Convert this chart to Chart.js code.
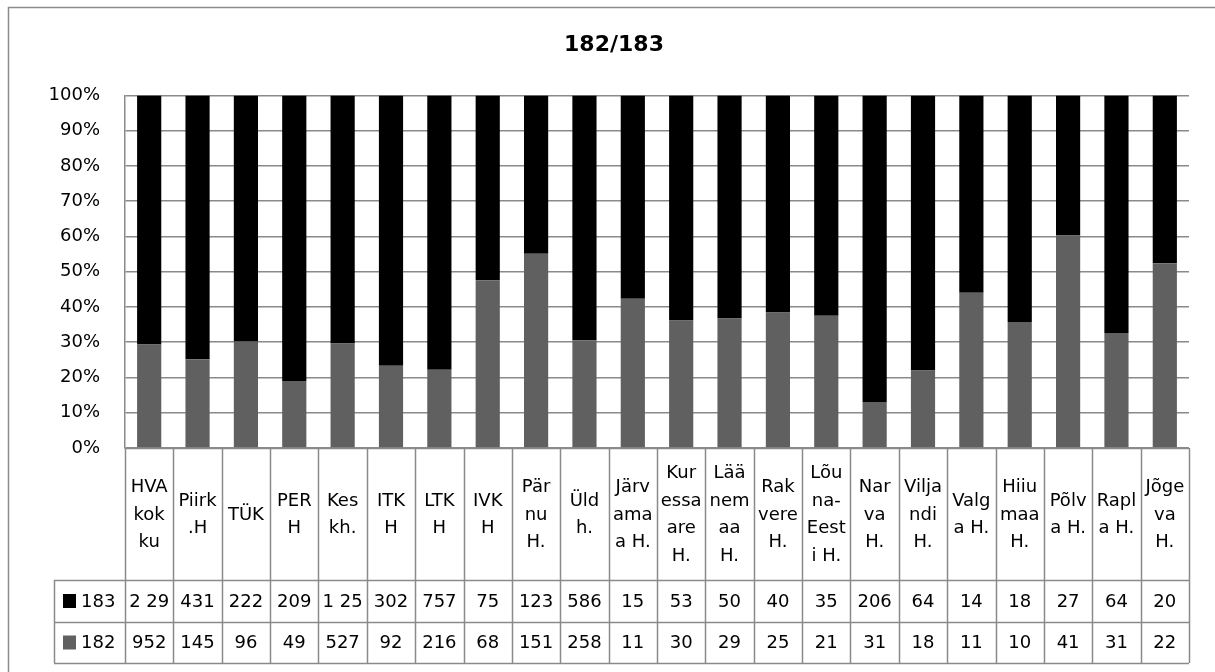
<!DOCTYPE html>
<html><head><meta charset="utf-8">
<script src="https://cdn.jsdelivr.net/npm/chart.js@4.4.0/dist/chart.umd.min.js"></script>
<style>html,body{margin:0;padding:0;background:#fff;overflow:hidden}#wrap{position:relative;width:1215px;height:672px}</style>
</head><body><div id="wrap"><canvas id="c" width="1215" height="672"></canvas></div>
<script>
const categories = [['HVA','kok','ku'],['Piirk','.H'],['TÜK'],['PER','H'],['Kes','kh.'],['ITK','H'],['LTK','H'],['IVK','H'],['Pär','nu','H.'],['Üld','h.'],['Järv','ama','a H.'],['Kur','essa','are','H.'],['Lää','nem','aa','H.'],['Rak','vere','H.'],['Lõu','na-','Eest','i H.'],['Nar','va','H.'],['Vilja','ndi','H.'],['Valg','a H.'],['Hiiu','maa','H.'],['Põlv','a H.'],['Rapl','a H.'],['Jõge','va','H.']];
const series183 = [2290,431,222,209,1250,302,757,75,123,586,15,53,50,40,35,206,64,14,18,27,64,20];
const series182 = [952,145,96,49,527,92,216,68,151,258,11,30,29,25,21,31,18,11,10,41,31,22];
const seriesNames = ['183','182'];
const yTicks = [0,10,20,30,40,50,60,70,80,90,100];
const titleText = '182/183';

const COL183 = '#000000', COL182 = '#606060', LINE = '#8a8a8a';
const FONT = 'DejaVu Sans';

const pct182 = series182.map((v,i)=> v/(v+series183[i])*100);
const pct183 = series183.map((v,i)=> v/(v+series182[i])*100);

function fmt(v){ return String(v).replace(/\B(?=(\d{3})+(?!\d))/g,' '); }

const tablePlugin = {
  id:'tbl',
  afterDraw(chart){
    const {ctx, chartArea:a} = chart;
    const n = categories.length, w = (a.right-a.left)/n;
    const yH = a.bottom, yR1 = yH+132, yR2 = yR1+42, yR3 = yR2+41;
    const legL = 54;
    ctx.save();
    // outer border
    ctx.strokeStyle = '#8c8c8c'; ctx.lineWidth = 1.5;
    ctx.beginPath(); ctx.moveTo(8.5,680); ctx.lineTo(8.5,7.5); ctx.lineTo(1230,7.5); ctx.stroke();
    // table lines
    ctx.strokeStyle = LINE; ctx.lineWidth = 1.5;
    ctx.beginPath();
    for(let i=0;i<=n;i++){ const x = Math.round(a.left+i*w)+0.5; ctx.moveTo(x,yH); ctx.lineTo(x,yR3); }
    [yH].forEach(y=>{ ctx.moveTo(a.left,y+0.5); ctx.lineTo(a.right,y+0.5); });
    [yR1,yR2,yR3].forEach(y=>{ ctx.moveTo(legL,y+0.5); ctx.lineTo(a.right,y+0.5); });
    ctx.moveTo(legL+0.5,yR1); ctx.lineTo(legL+0.5,yR3);
    ctx.stroke();
    // header text
    ctx.fillStyle = '#000'; ctx.textAlign = 'center'; ctx.textBaseline = 'middle';
    ctx.font = '18px "'+FONT+'"';
    const lh = 27.5, cy = (yH+yR1)/2;
    categories.forEach((lines,i)=>{
      const cx = a.left+(i+0.5)*w;
      const y0 = cy - (lines.length-1)*lh/2;
      lines.forEach((t,k)=> ctx.fillText(t, cx, y0+k*lh+1));
    });
    // values
    const rows = [[series183, (yR1+yR2)/2],[series182,(yR2+yR3)/2]];
    rows.forEach(([arr,ry])=>{
      arr.forEach((v,i)=>{
        let s = fmt(v);
        while(ctx.measureText(s).width > w-6 && s.length>1) s = s.slice(0,-1);
        ctx.fillText(s, a.left+(i+0.5)*w, ry+1);
      });
    });
    // legend keys
    ctx.textAlign = 'left';
    [[COL183,(yR1+yR2)/2,seriesNames[0]],[COL182,(yR2+yR3)/2,seriesNames[1]]].forEach(([c,ry,t])=>{
      ctx.fillStyle = c; ctx.fillRect(63, ry-7, 13, 14);
      ctx.fillStyle = '#000'; ctx.fillText(t, 81, ry+1);
    });
    ctx.restore();
  }
};

new Chart(document.getElementById('c').getContext('2d'), {
  type:'bar',
  data:{
    labels: categories,
    datasets:[
      {label:seriesNames[1], data:pct182, backgroundColor:COL182, barPercentage:0.5, categoryPercentage:1, stack:'s'},
      {label:seriesNames[0], data:pct183, backgroundColor:COL183, barPercentage:0.5, categoryPercentage:1, stack:'s'}
    ]
  },
  options:{
    responsive:false, animation:false, devicePixelRatio:1,
    layout:{padding:{left:39,right:26,top:0,bottom:224}},
    plugins:{
      legend:{display:false}, tooltip:{enabled:false},
      title:{display:true, text:titleText, color:'#000', font:{family:FONT, size:22, weight:'bold', lineHeight:1.2}, padding:{top:32,bottom:37}}
    },
    scales:{
      x:{stacked:true, display:false},
      y:{stacked:true, min:0, max:100, afterFit(s){ s.width = 86; },
         afterBuildTicks(s){ s.ticks = yTicks.map(v=>({value:v})); },
         ticks:{padding:25, color:'#000', font:{family:FONT,size:18}, callback:v=>v+'%'},
         grid:{color:LINE, drawTicks:false, lineWidth:1.5},
         border:{color:LINE, width:1.5}}
    }
  },
  plugins:[tablePlugin]
});
</script></body></html>
